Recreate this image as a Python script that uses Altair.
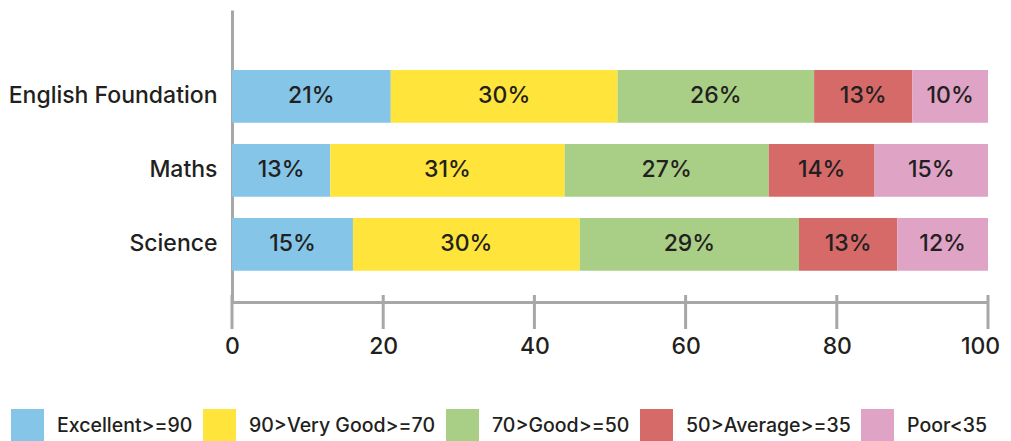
import altair as alt
import pandas as pd

subjects = ["English Foundation", "Maths", "Science"]
categories = ["Excellent>=90", "90>Very Good>=70", "70>Good>=50", "50>Average>=35", "Poor<35"]
colors = ["#85C5E8", "#FFE53B", "#A9CE86", "#D56A69", "#DFA3C5"]

english_values = [21, 30, 26, 13, 10]
maths_values = [13, 31, 27, 14, 15]
science_values = [16, 30, 29, 13, 12]

english_labels = ["21%", "30%", "26%", "13%", "10%"]
maths_labels = ["13%", "31%", "27%", "14%", "15%"]
science_labels = ["15%", "30%", "29%", "13%", "12%"]

tick_values = [0, 20, 40, 60, 80, 100]

rows = []
for subj, vals, labs in zip(subjects,
                            [english_values, maths_values, science_values],
                            [english_labels, maths_labels, science_labels]):
    for i, (c, v, l) in enumerate(zip(categories, vals, labs)):
        rows.append({"subject": subj, "category": c, "value": v, "label": l, "order": i})
df = pd.DataFrame(rows)
ticks_df = pd.DataFrame({"t": tick_values})

FONT = "Inter"
TEXT = "#231f20"
GRAY = "#A7A7AA"

yscale = alt.Scale(domain=subjects, paddingInner=0.288, paddingOuter=0.617, align=0.657)
xscale = alt.Scale(domain=[0, 100], nice=False)

base = alt.Chart(df).transform_stack(
    stack="value", groupby=["subject"], as_=["v0", "v1"],
    sort=[alt.SortField("order", order="ascending")]
)

bars = base.mark_bar().encode(
    y=alt.Y("subject:N", scale=yscale, title=None,
            axis=alt.Axis(domainColor=GRAY, domainWidth=3, ticks=False,
                          labelFont=FONT, labelFontSize=23, labelFontWeight=500,
                          labelColor=TEXT, labelPadding=15, labelLimit=400)),
    x=alt.X("v0:Q", scale=xscale, title=None,
            axis=alt.Axis(values=tick_values, domainColor=GRAY, domainWidth=3,
                          ticks=False, grid=False, labelFont=FONT, labelFontSize=23,
                          labelFontWeight=500, labelColor=TEXT, labelPadding=33,
                          labelFlush=False,
                          labelOffset={"condition": {"test": "datum.value == 100", "value": -8},
                                       "value": 0})),
    x2="v1:Q",
    color=alt.Color("category:N", scale=alt.Scale(domain=categories, range=colors),
                    legend=alt.Legend(title=None, orient="none", legendX=-221, legendY=399,
                                      direction="horizontal", symbolType="square",
                                      symbolSize=1089, symbolStrokeWidth=0, symbolOpacity=1,
                                      labelFont=FONT, labelFontSize=19.5, labelFontWeight=500,
                                      labelColor=TEXT, labelOffset=13, columnPadding=10,
                                      padding=0, labelLimit=300)),
    order=alt.Order("order:Q"),
)

labels = base.transform_calculate(mid="(datum.v0 + datum.v1) / 2").mark_text(
    font=FONT, fontSize=23, fontWeight=500, color=TEXT, baseline="middle", align="center"
).encode(
    y=alt.Y("subject:N", scale=yscale),
    x=alt.X("mid:Q", scale=xscale),
    text="label:N",
)

tick_rules = alt.Chart(ticks_df).mark_rule(color=GRAY, strokeWidth=3).encode(
    x=alt.X("t:Q", scale=xscale),
    y=alt.value(285),
    y2=alt.value(319),
)

chart = alt.layer(tick_rules, bars, labels).properties(
    width=756, height=292,
    autosize=alt.AutoSizeParams(type="none"),
    padding={"left": 224, "top": 2, "right": 15, "bottom": 139},
).configure_view(stroke=None)

chart.save("out.html", embed_options={"renderer": "svg", "actions": False})
